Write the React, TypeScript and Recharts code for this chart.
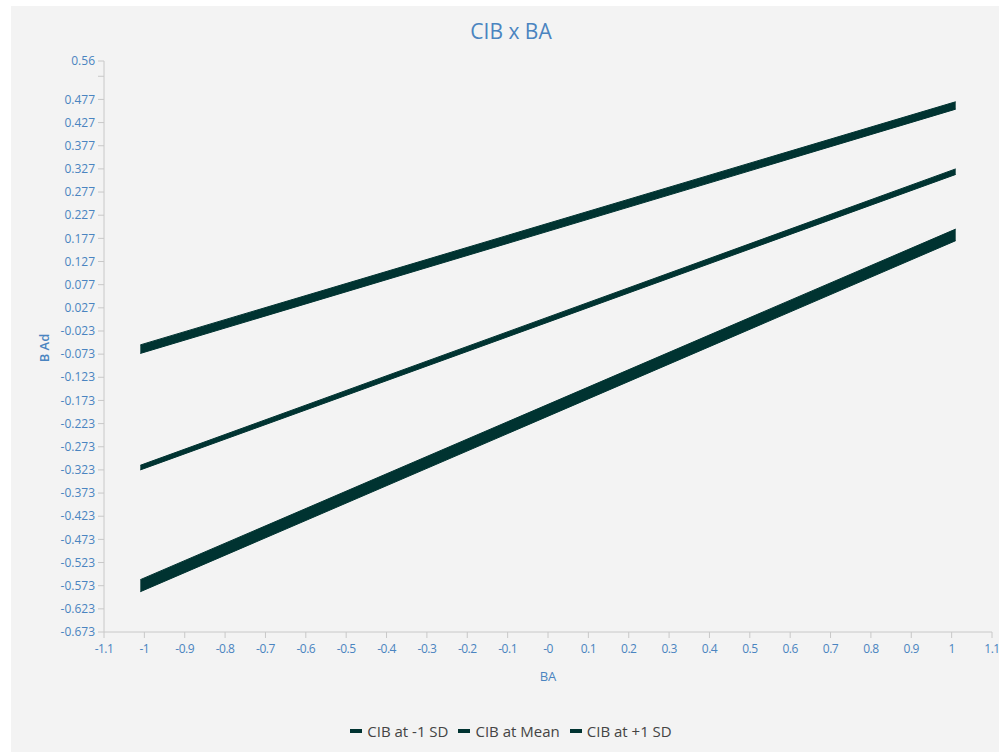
import React from 'react';
import { ComposedChart, Area, XAxis, YAxis } from 'recharts';

const xValues = [-1.01, 1.01];
const minusSdLow = [-0.0715, 0.456];
const minusSdHigh = [-0.053, 0.472];
const meanLow = [-0.323, 0.315];
const meanHigh = [-0.313, 0.327];
const plusSdLow = [-0.586, 0.172];
const plusSdHigh = [-0.56, 0.197];

const seriesNames = ['CIB at -1 SD', 'CIB at Mean', 'CIB at +1 SD'];

const xTicks = [-1.1, -1, -0.9, -0.8, -0.7, -0.6, -0.5, -0.4, -0.3, -0.2, -0.1, 0, 0.1, 0.2, 0.3, 0.4, 0.5, 0.6, 0.7, 0.8, 0.9, 1, 1.1];
const xTickLabels = ['-1.1', '-1', '-0.9', '-0.8', '-0.7', '-0.6', '-0.5', '-0.4', '-0.3', '-0.2', '-0.1', '-0', '0.1', '0.2', '0.3', '0.4', '0.5', '0.6', '0.7', '0.8', '0.9', '1', '1.1'];
const yTicks = [-0.673, -0.623, -0.573, -0.523, -0.473, -0.423, -0.373, -0.323, -0.273, -0.223, -0.173, -0.123, -0.073, -0.023, 0.027, 0.077, 0.127, 0.177, 0.227, 0.277, 0.327, 0.377, 0.427, 0.477, 0.527, 0.56];
const yTickLabels = ['-0.673', '-0.623', '-0.573', '-0.523', '-0.473', '-0.423', '-0.373', '-0.323', '-0.273', '-0.223', '-0.173', '-0.123', '-0.073', '-0.023', '0.027', '0.077', '0.127', '0.177', '0.227', '0.277', '0.327', '0.377', '0.427', '0.477', '', '0.56'];

const data = xValues.map((x, i) => ({
  x,
  m: [minusSdLow[i], minusSdHigh[i]],
  a: [meanLow[i], meanHigh[i]],
  p: [plusSdLow[i], plusSdHigh[i]],
}));

const BAND = '#003331';
const BLUE = '#4a84c0';
const FONT = "'Open Sans', 'Noto Sans', sans-serif";

const YTick = (props: any) => {
  const { x, y, payload } = props;
  const idx = yTicks.indexOf(payload.value);
  const label = idx >= 0 ? yTickLabels[idx] : String(payload.value);
  return (
    <text x={x} y={y} dy="0.35em" textAnchor="end" fill={BLUE} fontSize={12} fontFamily={FONT}>
      {label}
    </text>
  );
};

const XTick = (props: any) => {
  const { x, y, payload } = props;
  const idx = xTicks.findIndex((t) => Math.abs(t - payload.value) < 1e-9);
  const label = idx >= 0 ? xTickLabels[idx] : String(payload.value);
  return (
    <text x={x} y={y} dy="0.71em" textAnchor="middle" fill={BLUE} fontSize={12} fontFamily={FONT} letterSpacing={-0.5}>
      {label}
    </text>
  );
};

export default function App() {
  return (
    <div style={{ position: 'absolute', left: 0, top: 0, width: 999, height: 752, background: '#ffffff', overflow: 'hidden' }}>
      <div style={{ position: 'absolute', left: 11, top: 6, width: 988, height: 746, background: '#f3f3f3' }}>
        <div style={{ position: 'absolute', left: 0, top: 0 }}>
          <ComposedChart width={988} height={746} data={data} margin={{ top: 55, right: 7, bottom: 90, left: 0 }}>
            <XAxis
              dataKey="x"
              type="number"
              domain={[-1.1, 1.1]}
              ticks={xTicks}
              interval={0}
              allowDataOverflow
              tick={<XTick />}
              tickSize={6}
              tickMargin={6}
              height={30}
              stroke="#c8c8c8"
              tickLine={{ stroke: '#c8c8c8' }}
            />
            <YAxis
              type="number"
              domain={[-0.673, 0.56]}
              ticks={yTicks}
              interval={0}
              allowDataOverflow
              width={93}
              tick={<YTick />}
              tickSize={6}
              tickMargin={3}
              stroke="#c8c8c8"
              tickLine={{ stroke: '#c8c8c8' }}
            />
            <Area type="linear" dataKey="m" name={seriesNames[0]} stroke={BAND} strokeWidth={1} fill={BAND} fillOpacity={1} isAnimationActive={false} dot={false} activeDot={false} />
            <Area type="linear" dataKey="a" name={seriesNames[1]} stroke={BAND} strokeWidth={1} fill={BAND} fillOpacity={1} isAnimationActive={false} dot={false} activeDot={false} />
            <Area type="linear" dataKey="p" name={seriesNames[2]} stroke={BAND} strokeWidth={1} fill={BAND} fillOpacity={1} isAnimationActive={false} dot={false} activeDot={false} />
          </ComposedChart>
        </div>
        <div style={{ position: 'absolute', left: 0, width: 1000, top: 11, textAlign: 'center', color: BLUE, fontFamily: FONT, fontSize: 21 }}>
          CIB x BA
        </div>
        <div style={{ position: 'absolute', left: 33 - 30, top: 342 - 10, width: 60, height: 20, lineHeight: '20px', textAlign: 'center', color: BLUE, fontFamily: FONT, fontSize: 13, fontWeight: 600, transform: 'rotate(-90deg)' }}>
          B Ad
        </div>
        <div style={{ position: 'absolute', left: 537 - 30, top: 660, width: 60, height: 20, lineHeight: '20px', textAlign: 'center', color: BLUE, fontFamily: FONT, fontSize: 13 }}>
          BA
        </div>
        <div style={{ position: 'absolute', left: 0, width: 1000, top: 715, height: 20, display: 'flex', justifyContent: 'center', alignItems: 'center', gap: 10, fontFamily: FONT, fontSize: 15, color: '#444444' }}>
          {seriesNames.map((n) => (
            <div key={n} style={{ display: 'flex', alignItems: 'center' }}>
              <span style={{ display: 'inline-block', width: 12, height: 4, background: BAND, marginRight: 5 }} />
              <span>{n}</span>
            </div>
          ))}
        </div>
      </div>
    </div>
  );
}
